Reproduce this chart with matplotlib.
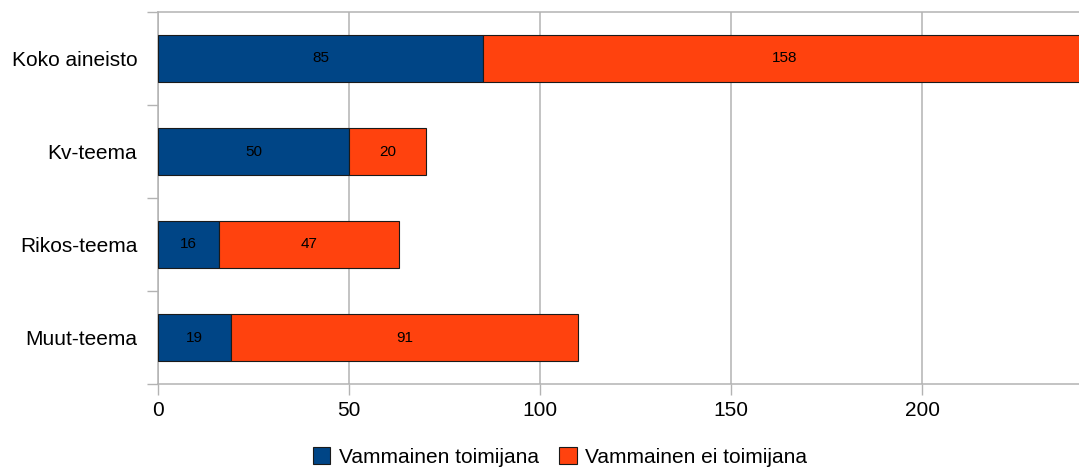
import matplotlib
matplotlib.use('Agg')
import matplotlib.pyplot as plt
import numpy as np

plt.rcParams['font.family'] = ['Liberation Sans', 'DejaVu Sans']

categories = ['Koko aineisto', 'Kv-teema', 'Rikos-teema', 'Muut-teema']
toimijana = [85, 50, 16, 19]
ei_toimijana = [158, 20, 47, 91]
series_names = ['Vammainen toimijana', 'Vammainen ei toimijana']
x_ticks = [0, 50, 100, 150, 200]

blue = '#004586'
orange = '#ff420e'
grid_col = '#b3b3b3'

fig = plt.figure(figsize=(10.79, 4.67), dpi=100)
ax = fig.add_axes([158 / 1079, 1 - 384 / 467, 1 - 158 / 1079, (384 - 12) / 467])

y = np.arange(len(categories))
b1 = ax.barh(y, toimijana, height=0.5, color=blue, edgecolor='#1a1a1a', linewidth=0.8,
             label=series_names[0], zorder=3)
b2 = ax.barh(y, ei_toimijana, left=toimijana, height=0.5, color=orange, edgecolor='#1a1a1a',
             linewidth=0.8, label=series_names[1], zorder=3)

# value labels in the middle of each segment
for bars, vals, lefts in [(b1, toimijana, [0] * len(toimijana)), (b2, ei_toimijana, toimijana)]:
    for bar, v, l in zip(bars, vals, lefts):
        ax.text(l + v / 2, bar.get_y() + bar.get_height() / 2, str(v),
                ha='center', va='center', fontsize=11, color='black', zorder=4)

ax.set_xlim(0, 241)
ax.set_ylim(len(categories) - 0.5, -0.5)

ax.set_yticks(y)
ax.set_yticklabels(categories, fontsize=15)
ax.tick_params(axis='y', which='major', length=0, pad=15)
ax.set_yticks(np.arange(len(categories) + 1) - 0.5, minor=True)
ax.tick_params(axis='y', which='minor', length=8, width=1, color=grid_col, direction='out')

ax.set_xticks(x_ticks)
ax.set_xticklabels([str(t) for t in x_ticks], fontsize=15)
ax.tick_params(axis='x', length=8, width=1, color=grid_col, pad=4.5)

ax.grid(axis='x', color=grid_col, linewidth=1.1, zorder=0)
ax.set_axisbelow(True)

for side in ['left', 'top', 'bottom']:
    ax.spines[side].set_color(grid_col)
    ax.spines[side].set_linewidth(1.1)
ax.spines['right'].set_visible(False)

fig.legend(handles=[b1, b2], labels=series_names, loc='center', ncol=2,
           bbox_to_anchor=(560 / 1079, 1 - 457 / 467), frameon=False, fontsize=15,
           handlelength=0.85, handleheight=0.85, handletextpad=0.4, columnspacing=1.0)

fig.savefig('out.png', dpi=100)
